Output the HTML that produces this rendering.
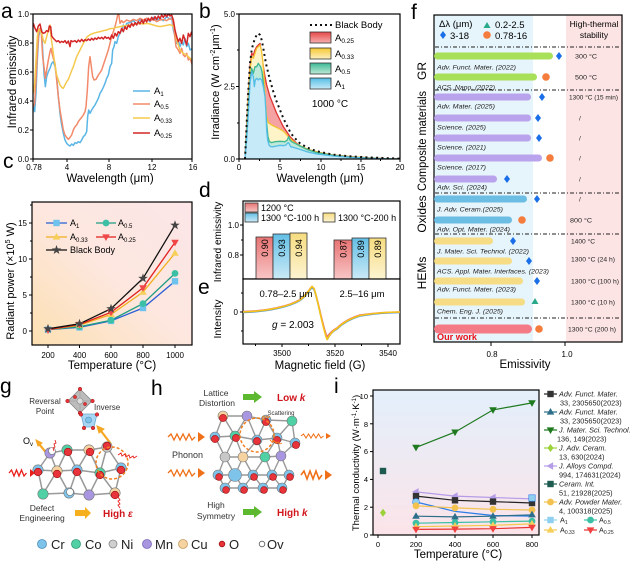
<!DOCTYPE html>
<html><head><meta charset="utf-8"><style>html,body{margin:0;padding:0;background:#fff}svg{display:block}</style></head><body>
<svg width="630" height="561" viewBox="0 0 630 561" font-family="'Liberation Sans', Arial, sans-serif">
<defs>
<linearGradient id="gc" x1="0" y1="1" x2="1" y2="0"><stop offset="0" stop-color="#fde0b2"/><stop offset="0.5" stop-color="#fde7df"/><stop offset="1" stop-color="#fce6e8"/></linearGradient>
<linearGradient id="gi" x1="0" y1="0" x2="0" y2="1"><stop offset="0" stop-color="#e3effb"/><stop offset="1" stop-color="#fbe4e9"/></linearGradient>
<linearGradient id="br" x1="0" y1="0" x2="0" y2="1"><stop offset="0" stop-color="#e87474"/><stop offset="1" stop-color="#f8c6c6"/></linearGradient>
<linearGradient id="bb" x1="0" y1="0" x2="0" y2="1"><stop offset="0" stop-color="#64bfe6"/><stop offset="1" stop-color="#cbeaf6"/></linearGradient>
<linearGradient id="by" x1="0" y1="0" x2="0" y2="1"><stop offset="0" stop-color="#f6dc80"/><stop offset="1" stop-color="#fdf4d2"/></linearGradient>
<linearGradient id="lg1" x1="0" y1="0" x2="0" y2="1"><stop offset="0" stop-color="#e64848"/><stop offset="1" stop-color="#f6b0b0"/></linearGradient>
<linearGradient id="lg2" x1="0" y1="0" x2="0" y2="1"><stop offset="0" stop-color="#f5c832"/><stop offset="1" stop-color="#fdf0c0"/></linearGradient>
<linearGradient id="lg3" x1="0" y1="0" x2="0" y2="1"><stop offset="0" stop-color="#3cb894"/><stop offset="1" stop-color="#c0ead8"/></linearGradient>
<linearGradient id="lg4" x1="0" y1="0" x2="0" y2="1"><stop offset="0" stop-color="#55bde6"/><stop offset="1" stop-color="#c8ebf7"/></linearGradient>
<clipPath id="ca" clipPathUnits="userSpaceOnUse"><rect x="100" y="42" width="477" height="435"/></clipPath>
<clipPath id="cb" clipPathUnits="userSpaceOnUse"><rect x="118" y="42" width="482" height="435"/></clipPath>
<g id="sq"><rect x="-3.2" y="-3.2" width="6.4" height="6.4"/></g>
<g id="ci"><circle r="3.4"/></g>
<g id="tr"><polygon points="0,-4 3.8,2.6 -3.8,2.6"/></g>
<g id="dt"><polygon points="0,4 3.8,-2.6 -3.8,-2.6"/></g>
<g id="lt"><polygon points="-4,0 2.6,-3.8 2.6,3.8"/></g>
<g id="di"><polygon points="0,-4 3,0 0,4 -3,0"/></g>
<g id="st"><polygon points="0,-5 1.2,-1.6 4.8,-1.5 1.9,0.6 2.9,4 0,2 -2.9,4 -1.9,0.6 -4.8,-1.5 -1.2,-1.6"/></g>
</defs>

<!-- ============ PANEL A ============ -->
<text x="1" y="18" font-size="21">a</text>
<g transform="scale(0.333333)" fill="none" stroke-width="4.5" stroke-linejoin="round">
<g clip-path="url(#ca)">
<polyline stroke="#5ab6e6" points="100,320 104,335 108,280 112,180 116,110 120,92 125,90 128,150 132,220 136,260 140,230 145,215 150,205 155,190 160,185 165,200 170,230 175,290 180,340 185,375 190,400 195,420 200,430 205,435 210,438 215,432 220,436 225,428 230,430 235,425 240,428 245,420 250,410 255,405 260,395 263,350 266,330 270,340 275,330 280,322 285,315 290,305 295,295 300,280 305,272 310,262 315,250 320,235 325,225 330,200 335,190 338,150 342,140 345,125 350,130 355,110 360,100 365,90 370,75 375,85 380,70 390,68 400,62 410,72 420,58 430,66 440,55 450,65 460,52 470,60 480,55 490,62 500,50 510,58 515,52 520,90 525,110 530,130 535,120 540,140 545,125 550,135 555,115 560,140 565,130 570,150 577,145"/>
<polyline stroke="#f28a6a" points="100,320 104,310 108,240 112,160 116,100 120,85 124,100 128,170 132,200 136,235 140,210 145,180 150,155 153,145 156,160 160,175 165,190 170,240 175,290 180,330 185,360 190,390 195,405 200,412 205,418 210,412 215,405 220,390 225,380 230,375 235,365 240,358 245,352 250,345 255,335 258,320 262,270 266,200 270,170 274,200 278,230 282,240 288,238 295,225 300,218 305,210 310,195 315,180 320,165 325,150 330,130 335,110 340,95 345,80 350,60 353,45 356,40 360,70 365,62 370,68 380,60 390,64 400,58 410,62 420,55 430,60 440,55 450,62 460,58 470,65 480,60 490,58 500,62 510,55 518,60 522,90 528,140 535,150 540,160 545,145 550,165 555,170 560,160 565,180 570,175 577,195"/>
<polyline stroke="#f5c94e" points="100,280 104,250 108,180 112,110 116,88 120,90 125,100 130,120 135,130 140,110 145,90 150,75 153,110 156,130 160,160 165,195 170,225 175,240 180,255 185,262 190,265 195,255 200,245 205,238 210,225 215,212 220,200 225,185 230,170 235,160 240,150 245,140 250,130 255,122 260,112 265,108 270,104 280,100 290,97 300,95 310,92 320,90 330,86 340,85 350,82 360,80 370,78 380,76 390,75 400,74 410,72 420,70 430,72 440,70 450,72 460,75 470,78 480,80 490,78 500,76 510,74 520,78 525,90 530,120 535,135 540,150 550,160 560,165 570,175 577,178"/>
<polyline stroke="#d42626" points="100,70 105,85 110,95 115,78 120,72 125,95 130,100 135,98 140,92 145,95 148,78 152,80 155,108 160,115 165,120 170,125 175,122 180,128 185,124 190,127 195,122 200,130 205,123 210,140 213,122 218,125 225,122 230,127 235,120 240,125 245,118 250,124 255,119 260,122 265,117 270,121 275,115 280,120 285,114 290,118 295,112 300,116 305,112 310,117 315,110 320,115 325,112 330,118 335,105 340,115 345,100 350,108 355,95 360,100 365,85 370,95 375,80 380,88 385,75 390,82 395,70 400,78 405,68 410,75 415,65 420,72 425,60 430,70 435,58 440,66 445,55 450,62 455,52 460,60 465,50 470,58 475,48 480,56 485,45 490,52 495,44 500,50 505,42 510,48 515,45 520,60 525,90 530,110 535,125 540,115 545,130 550,105 555,120 560,135 565,100 570,110 575,95"/>
</g></g>
<rect x="33" y="14" width="159" height="145" fill="none" stroke="#000" stroke-width="1.2"/>
<g stroke="#000" stroke-width="1">
<line x1="30" y1="14" x2="33" y2="14"/><line x1="30" y1="43" x2="33" y2="43"/><line x1="30" y1="72" x2="33" y2="72"/><line x1="30" y1="101" x2="33" y2="101"/><line x1="30" y1="130" x2="33" y2="130"/><line x1="30" y1="159" x2="33" y2="159"/>
<line x1="33" y1="159" x2="33" y2="162"/><line x1="67" y1="159" x2="67" y2="162"/><line x1="109" y1="159" x2="109" y2="162"/><line x1="152" y1="159" x2="152" y2="162"/><line x1="192" y1="159" x2="192" y2="162"/>
</g>
<g font-size="8" text-anchor="end">
<text x="29" y="17">1.0</text><text x="29" y="46">0.8</text><text x="29" y="75">0.6</text><text x="29" y="104">0.4</text><text x="29" y="133">0.2</text><text x="29" y="162">0.0</text>
</g>
<g font-size="8" text-anchor="middle">
<text x="34" y="170">0.78</text><text x="67" y="170">4</text><text x="109" y="170">8</text><text x="152" y="170">12</text><text x="193" y="170">16</text>
</g>
<text x="110" y="182" font-size="11.5" text-anchor="middle">Wavelength (μm)</text>
<text transform="translate(16,82) rotate(-90)" font-size="11.5" text-anchor="middle">Infrared emissivity</text>
<g stroke-width="1.5">
<line x1="133" y1="91" x2="150" y2="91" stroke="#5ab6e6"/>
<line x1="133" y1="104" x2="150" y2="104" stroke="#f28a6a"/>
<line x1="133" y1="118" x2="150" y2="118" stroke="#f5c94e"/>
<line x1="133" y1="133" x2="150" y2="133" stroke="#d42626"/>
</g>
<g font-size="9.5">
<text x="154" y="94">A<tspan font-size="6" dy="2">1</tspan></text>
<text x="154" y="107">A<tspan font-size="6" dy="2">0.5</tspan></text>
<text x="154" y="121">A<tspan font-size="6" dy="2">0.33</tspan></text>
<text x="154" y="136">A<tspan font-size="6" dy="2">0.25</tspan></text>
</g>

<!-- ============ PANEL B ============ -->
<text x="199" y="18" font-size="21">b</text>
<g transform="translate(200,0) scale(0.333333)" clip-path="url(#cb)" stroke-width="4" stroke-linejoin="round">
<path fill="#f4a2a2" stroke="#e03636" d="M135,477 L140,380 145,280 150,200 155,160 160,165 165,150 170,140 175,135 180,130 185,165 190,200 195,230 200,255 210,290 220,315 230,340 240,360 250,380 260,395 270,410 280,420 290,430 300,437 320,447 340,453 360,458 400,465 450,470 500,473 550,476 600,477 Z"/>
<path fill="#fff3c8" stroke="#f5c330" d="M135,477 L140,390 145,290 150,210 155,170 160,175 165,160 170,145 175,140 180,135 184,150 188,180 192,230 196,300 200,350 205,368 215,375 225,380 235,385 245,390 255,398 265,410 275,420 290,432 310,442 330,450 360,458 400,465 450,470 500,473 550,476 600,477 Z"/>
<path fill="#bfe9d8" stroke="#3cb894" d="M135,477 L140,400 145,320 150,240 155,205 160,220 165,200 170,200 175,190 178,195 182,200 186,215 190,250 195,300 200,370 204,410 208,425 215,428 225,425 240,424 255,425 262,420 266,410 270,420 275,425 285,430 300,438 320,448 350,458 400,466 450,471 500,474 550,476 600,477 Z"/>
<path fill="#c6eaf7" stroke="#55bde6" d="M135,477 L140,420 145,340 150,250 155,215 160,230 163,260 166,240 170,235 175,240 180,235 185,240 190,260 195,290 198,340 200,390 203,420 207,435 212,440 220,440 230,438 240,436 250,437 258,435 262,430 265,428 268,432 272,440 280,442 290,445 300,448 320,455 350,462 400,468 450,472 500,474 550,476 600,477 Z"/>
<path fill="none" stroke="#111" stroke-width="6" stroke-dasharray="6,10" d="M135,477 L140,370 145,270 150,190 155,150 160,130 165,115 170,105 175,100 180,105 185,120 190,145 195,175 200,200 210,240 220,275 230,305 240,330 250,355 260,375 270,395 280,410 290,420 300,430 320,442 340,450 360,456 400,464 450,469 500,472 550,474 600,476"/>
</g>
<rect x="239" y="14" width="161" height="145" fill="none" stroke="#000" stroke-width="1.2"/>
<g stroke="#000" stroke-width="1">
<line x1="236" y1="14" x2="239" y2="14"/><line x1="237" y1="50" x2="239" y2="50"/><line x1="236" y1="86.5" x2="239" y2="86.5"/><line x1="237" y1="123" x2="239" y2="123"/><line x1="236" y1="159" x2="239" y2="159"/>
<line x1="239" y1="159" x2="239" y2="162"/><line x1="259.5" y1="159" x2="259.5" y2="161"/><line x1="280" y1="159" x2="280" y2="162"/><line x1="300.5" y1="159" x2="300.5" y2="161"/><line x1="321" y1="159" x2="321" y2="162"/><line x1="341" y1="159" x2="341" y2="161"/><line x1="361" y1="159" x2="361" y2="162"/><line x1="380.5" y1="159" x2="380.5" y2="161"/><line x1="400" y1="159" x2="400" y2="162"/>
</g>
<g font-size="8" text-anchor="end"><text x="235" y="17">5.0</text><text x="235" y="89.5">2.5</text><text x="235" y="162">0.0</text></g>
<g font-size="8" text-anchor="middle"><text x="239" y="170">0</text><text x="280" y="170">5</text><text x="321" y="170">10</text><text x="361" y="170">15</text><text x="400" y="170">20</text></g>
<text x="320" y="182" font-size="11.5" text-anchor="middle">Wavelength (μm)</text>
<text transform="translate(219,82) rotate(-90)" font-size="11" text-anchor="middle">Irradiance (W cm<tspan font-size="7" dy="-4">-2</tspan><tspan dy="4">μm</tspan><tspan font-size="7" dy="-4">-1</tspan><tspan dy="4">)</tspan></text>
<line x1="310" y1="25" x2="332" y2="25" stroke="#111" stroke-width="2" stroke-dasharray="2,3"/>
<rect x="310" y="32" width="21" height="11" fill="url(#lg1)" stroke="#333" stroke-width="0.8"/>
<rect x="310" y="48" width="21" height="11" fill="url(#lg2)" stroke="#333" stroke-width="0.8"/>
<rect x="310" y="63" width="21" height="11" fill="url(#lg3)" stroke="#333" stroke-width="0.8"/>
<rect x="310" y="78" width="21" height="11" fill="url(#lg4)" stroke="#333" stroke-width="0.8"/>
<g font-size="9.5">
<text x="335" y="28">Black Body</text>
<text x="335" y="41">A<tspan font-size="6.5" dy="2">0.25</tspan></text>
<text x="335" y="57">A<tspan font-size="6.5" dy="2">0.33</tspan></text>
<text x="335" y="72">A<tspan font-size="6.5" dy="2">0.5</tspan></text>
<text x="335" y="87">A<tspan font-size="6.5" dy="2">1</tspan></text>
</g>
<text x="330" y="107" font-size="10" text-anchor="middle">1000 °C</text>

<!-- ============ PANEL C ============ -->
<text x="3" y="168" font-size="21">c</text>
<rect x="32" y="202" width="160" height="143" fill="url(#gc)" stroke="#000" stroke-width="1.2"/>
<g stroke="#000" stroke-width="1">
<line x1="29" y1="331" x2="32" y2="331"/><line x1="29" y1="295" x2="32" y2="295"/><line x1="29" y1="259" x2="32" y2="259"/><line x1="29" y1="223" x2="32" y2="223"/>
<line x1="30" y1="313" x2="32" y2="313"/><line x1="30" y1="277" x2="32" y2="277"/><line x1="30" y1="241" x2="32" y2="241"/><line x1="30" y1="205" x2="32" y2="205"/>
<line x1="48" y1="345" x2="48" y2="348"/><line x1="79.5" y1="345" x2="79.5" y2="348"/><line x1="111" y1="345" x2="111" y2="348"/><line x1="143" y1="345" x2="143" y2="348"/><line x1="175" y1="345" x2="175" y2="348"/>
</g>
<g font-size="8" text-anchor="end"><text x="27" y="334">0</text><text x="27" y="298">5</text><text x="27" y="262">10</text><text x="27" y="226">15</text></g>
<g font-size="8" text-anchor="middle"><text x="48" y="358">200</text><text x="79.5" y="358">400</text><text x="111" y="358">600</text><text x="143" y="358">800</text><text x="175" y="358">1000</text></g>
<text x="112" y="369" font-size="11.5" text-anchor="middle">Temperature (°C)</text>
<text transform="translate(14,281) rotate(-90)" font-size="11" text-anchor="middle">Radiant power (×10<tspan font-size="7" dy="-4">5</tspan><tspan dy="4"> W)</tspan></text>
<g fill="none" stroke-width="1.3">
<polyline stroke="#2a5fd6" points="48,329.6 79.5,327.4 111,320.9 143,308 175,281.3"/>
<polyline stroke="#1f9c84" points="48,329.6 79.5,326.7 111,320.2 143,303.6 175,273.4"/>
<polyline stroke="#f0b020" points="48,329.6 79.5,325.2 111,314.4 143,292.1 175,253.2"/>
<polyline stroke="#e02020" points="48,329.6 79.5,324.5 111,312.3 143,287.8 175,242.4"/>
<polyline stroke="#111" points="48,328.8 79.5,323.8 111,308.7 143,278.4 175,225.2"/>
</g>
<g fill="#6ec3ee"><use href="#sq" x="48" y="329.6"/><use href="#sq" x="79.5" y="327.4"/><use href="#sq" x="111" y="320.9"/><use href="#sq" x="143" y="308"/><use href="#sq" x="175" y="281.3"/></g>
<g fill="#3cc0a5"><use href="#ci" x="79.5" y="326.7"/><use href="#ci" x="111" y="320.2"/><use href="#ci" x="143" y="303.6"/><use href="#ci" x="175" y="273.4"/></g>
<g fill="#f5cf5a"><use href="#tr" x="79.5" y="325.2"/><use href="#tr" x="111" y="314.4"/><use href="#tr" x="143" y="292.1"/><use href="#tr" x="175" y="253.2"/></g>
<g fill="#f04848"><use href="#dt" x="48" y="330"/><use href="#dt" x="79.5" y="324.5"/><use href="#dt" x="111" y="312.3"/><use href="#dt" x="143" y="287.8"/><use href="#dt" x="175" y="242.4"/></g>
<g fill="#444"><use href="#st" x="48" y="328.8"/><use href="#st" x="79.5" y="323.8"/><use href="#st" x="111" y="308.7"/><use href="#st" x="143" y="278.4"/><use href="#st" x="175" y="225.2"/></g>
<g stroke-width="1.3">
<line x1="46" y1="223" x2="67" y2="223" stroke="#2a5fd6"/><line x1="96" y1="223" x2="116" y2="223" stroke="#1f9c84"/>
<line x1="46" y1="237" x2="67" y2="237" stroke="#f0b020"/><line x1="96" y1="237" x2="116" y2="237" stroke="#e02020"/>
<line x1="46" y1="250" x2="67" y2="250" stroke="#111"/>
</g>
<use href="#sq" x="56.5" y="223" fill="#6ec3ee"/><use href="#ci" x="106" y="223" fill="#3cc0a5"/>
<use href="#tr" x="56.5" y="237" fill="#f5cf5a"/><use href="#dt" x="106" y="237" fill="#f04848"/>
<use href="#st" x="56.5" y="250" fill="#444"/>
<g font-size="9">
<text x="70" y="226">A<tspan font-size="6" dy="2">1</tspan></text>
<text x="118" y="226">A<tspan font-size="6" dy="2">0.5</tspan></text>
<text x="70" y="240">A<tspan font-size="6" dy="2">0.33</tspan></text>
<text x="118" y="240">A<tspan font-size="6" dy="2">0.25</tspan></text>
<text x="70" y="253">Black Body</text>
</g>

<!-- ============ PANEL D / E ============ -->
<text x="199" y="197" font-size="21">d</text>
<rect x="243" y="201" width="157" height="78" fill="#fff" stroke="#000" stroke-width="1.2"/>
<g stroke="#333" stroke-width="0.8">
<rect x="256" y="237" width="17" height="42" fill="url(#br)"/>
<rect x="273" y="234" width="17" height="45" fill="url(#bb)"/>
<rect x="290" y="233" width="17" height="46" fill="url(#by)"/>
<rect x="334" y="240" width="18" height="39" fill="url(#br)"/>
<rect x="352" y="238" width="17" height="41" fill="url(#bb)"/>
<rect x="369" y="238" width="17" height="41" fill="url(#by)"/>
</g>
<g font-size="9">
<text transform="translate(268,248) rotate(-90)" text-anchor="middle">0.90</text>
<text transform="translate(285,248) rotate(-90)" text-anchor="middle">0.93</text>
<text transform="translate(302,248) rotate(-90)" text-anchor="middle">0.94</text>
<text transform="translate(346.5,249) rotate(-90)" text-anchor="middle">0.87</text>
<text transform="translate(364,249) rotate(-90)" text-anchor="middle">0.89</text>
<text transform="translate(381,249) rotate(-90)" text-anchor="middle">0.89</text>
</g>
<g stroke="#333" stroke-width="0.8">
<rect x="245" y="203" width="13" height="9" fill="url(#br)"/>
<rect x="245" y="213" width="13" height="9" fill="url(#bb)"/>
<rect x="323" y="213" width="12" height="9" fill="url(#by)"/>
</g>
<g font-size="9">
<text x="261" y="211">1200 °C</text>
<text x="261" y="221">1300 °C-100 h</text>
<text x="338" y="221">1300 °C-200 h</text>
</g>
<g stroke="#000" stroke-width="1"><line x1="240" y1="225" x2="243" y2="225"/><line x1="240" y1="255" x2="243" y2="255"/><line x1="241" y1="240" x2="243" y2="240"/></g>
<g font-size="8" text-anchor="end"><text x="239" y="228">1.0</text><text x="239" y="258">0.8</text></g>
<text transform="translate(221,242) rotate(-90)" font-size="10" text-anchor="middle">Infrared emissivity</text>

<text x="198" y="294" font-size="21">e</text>
<rect x="243" y="279" width="157" height="65" fill="#fff" stroke="#000" stroke-width="1.2"/>
<g fill="none" stroke-width="1.6" stroke-linejoin="round">
<path stroke="#3b8fe0" d="M243,312.5 C270,311.5 290,306.5 300,300.5 C306,296.5 309,290.5 312,287.5 L314,289.5 C318,300 322,325 327.5,339 C330,334 333,331 337,329 C343,323 350,319 360,316 C375,313.5 385,312.5 400,312.5"/>
<path stroke="#e87070" d="M243,311.5 C270,311 290,305.5 300,299.5 C306,295.5 309,289.5 312,286.5 L314,288.5 C318,299 322,324 327,337 C330,333 333,330 337,328 C343,322 350,318 360,315 C375,313 385,312 400,312"/>
<path stroke="#f5c518" d="M243,312 C270,311 290,306 300,300 C306,296 309,290 312,286.5 L314,288.5 C318,300 322,326 327,339.5 C330,334 333,330.5 337,328.5 C343,322.5 350,318.5 360,315.5 C375,313 385,312 400,312"/>
</g>
<g stroke="#000" stroke-width="1">
<line x1="240" y1="312" x2="243" y2="312"/><line x1="241" y1="293" x2="243" y2="293"/><line x1="241" y1="331" x2="243" y2="331"/>
<line x1="255.5" y1="344" x2="255.5" y2="346"/><line x1="282" y1="344" x2="282" y2="347"/><line x1="308.5" y1="344" x2="308.5" y2="346"/><line x1="335" y1="344" x2="335" y2="347"/><line x1="361.5" y1="344" x2="361.5" y2="346"/><line x1="388" y1="344" x2="388" y2="347"/>
</g>
<text x="238" y="315" font-size="8" text-anchor="end">0</text>
<g font-size="8" text-anchor="middle"><text x="282" y="356">3500</text><text x="335" y="356">3520</text><text x="388" y="356">3540</text></g>
<text x="320" y="369" font-size="11.5" text-anchor="middle">Magnetic field (G)</text>
<text transform="translate(221,319) rotate(-90)" font-size="10.5" text-anchor="middle">Intensity</text>
<text x="286" y="297" font-size="9.5" text-anchor="middle">0.78–2.5 μm</text>
<text x="362" y="297" font-size="9.5" text-anchor="middle">2.5–16 μm</text>
<text x="293" y="328" font-size="10" text-anchor="middle"><tspan font-style="italic">g</tspan> = 2.003</text>

<!-- ============ PANEL F ============ -->
<text x="411" y="19" font-size="21">f</text>
<rect x="434" y="15" width="99" height="327" fill="#e6f4fb"/>
<rect x="566" y="15" width="56" height="327" fill="#fde4e4"/>
<rect x="434" y="15" width="188" height="327" fill="none" stroke="#000" stroke-width="1.2"/>
<g stroke="#222" stroke-width="1" stroke-dasharray="4,2,1,2">
<line x1="435" y1="47" x2="621" y2="47"/><line x1="435" y1="90" x2="621" y2="90"/><line x1="435" y1="193" x2="621" y2="193"/><line x1="435" y1="234" x2="621" y2="234"/><line x1="435" y1="318" x2="621" y2="318"/>
</g>
<text x="439" y="27" font-size="9.5">Δλ (μm)</text>
<polygon points="487,22 490.5,28 483.5,28" fill="#2aa88a"/>
<text x="495" y="28" font-size="9.5">0.2-2.5</text>
<polygon points="443,31 446,35 443,39 440,35" fill="#1a6fe8"/>
<text x="450" y="39" font-size="9.5">3-18</text>
<circle cx="487" cy="35" r="3.8" fill="#f47c3c"/>
<text x="495" y="39" font-size="9.5">0.78-16</text>
<text x="594" y="27" font-size="8.5" text-anchor="middle">High-thermal</text>
<text x="594" y="38" font-size="8.5" text-anchor="middle">stability</text>
<!-- bars -->
<g>
<rect x="434" y="52.5" width="119" height="7" rx="3.5" fill="#a8e05a"/>
<rect x="434" y="73.5" width="103" height="7" rx="3.5" fill="#a8e05a"/>
<rect x="434" y="93.5" width="97" height="7" rx="3.5" fill="#b9a3ec"/>
<rect x="434" y="114.5" width="97" height="7" rx="3.5" fill="#b9a3ec"/>
<rect x="434" y="134.5" width="97" height="7" rx="3.5" fill="#b9a3ec"/>
<rect x="434" y="154.5" width="108" height="7" rx="3.5" fill="#b9a3ec"/>
<rect x="434" y="175.5" width="63" height="7" rx="3.5" fill="#b9a3ec"/>
<rect x="434" y="195.5" width="93" height="7" rx="3.5" fill="#6cbde3"/>
<rect x="434" y="216.5" width="78" height="7" rx="3.5" fill="#6cbde3"/>
<rect x="434" y="237.5" width="59" height="7" rx="3.5" fill="#f6dc85"/>
<rect x="434" y="257.5" width="78" height="7" rx="3.5" fill="#f6dc85"/>
<rect x="434" y="277.5" width="89" height="7" rx="3.5" fill="#f6dc85"/>
<rect x="434" y="298.5" width="91" height="7" rx="3.5" fill="#f6dc85"/>
<rect x="434" y="324.5" width="98" height="9" rx="4.5" fill="#f47b86"/>
</g>
<g fill="#1a6fe8">
<use href="#di" x="559" y="56"/><use href="#di" x="542" y="97"/><use href="#di" x="538" y="118"/><use href="#di" x="539" y="138"/><use href="#di" x="507" y="179"/><use href="#di" x="537" y="199"/><use href="#di" x="513" y="241"/><use href="#di" x="529" y="261"/><use href="#di" x="537" y="281"/>
</g>
<g fill="#f47c3c"><circle cx="546" cy="77" r="3.8"/><circle cx="550" cy="158" r="3.8"/><circle cx="522" cy="220" r="3.8"/><circle cx="539" cy="329" r="3.8"/></g>
<polygon points="535,298 538.5,304 531.5,304" fill="#2aa88a"/>
<g font-size="6.8" font-style="italic" fill="#222">
<text x="437" y="69.5" textLength="79" lengthAdjust="spacingAndGlyphs">Adv. Funct. Mater. (2022)</text>
<text x="437" y="89.5" textLength="58" lengthAdjust="spacingAndGlyphs">ACS. Nano. (2022)</text>
<text x="437" y="108.5" textLength="58" lengthAdjust="spacingAndGlyphs">Adv. Mater. (2025)</text>
<text x="437" y="129.5" textLength="49" lengthAdjust="spacingAndGlyphs">Science. (2025)</text>
<text x="437" y="149.5" textLength="49" lengthAdjust="spacingAndGlyphs">Science. (2021)</text>
<text x="437" y="169.5" textLength="49" lengthAdjust="spacingAndGlyphs">Science. (2017)</text>
<text x="437" y="189.5" textLength="50" lengthAdjust="spacingAndGlyphs">Adv. Sci. (2024)</text>
<text x="437" y="211.5" textLength="66" lengthAdjust="spacingAndGlyphs">J. Adv. Ceram.(2025)</text>
<text x="437" y="231.5" textLength="73" lengthAdjust="spacingAndGlyphs">Adv. Opt. Mater. (2024)</text>
<text x="437" y="253.5" textLength="92" lengthAdjust="spacingAndGlyphs">J. Mater. Sci. Technol. (2022)</text>
<text x="437" y="273.5" textLength="112" lengthAdjust="spacingAndGlyphs">ACS. Appl. Mater. Interfaces. (2023)</text>
<text x="437" y="291.5" textLength="79" lengthAdjust="spacingAndGlyphs">Adv. Funct. Mater. (2023)</text>
<text x="437" y="313.5" textLength="66" lengthAdjust="spacingAndGlyphs">Chem. Eng. J. (2025)</text>
</g>
<text x="437" y="340" font-size="9" font-weight="bold" fill="#e8141c" textLength="40" lengthAdjust="spacingAndGlyphs">Our work</text>
<g font-size="6.5" fill="#222">
<text x="575" y="58.5" textLength="22" lengthAdjust="spacingAndGlyphs">300 °C</text>
<text x="575" y="79.5" textLength="22" lengthAdjust="spacingAndGlyphs">500 °C</text>
<text x="569" y="99.5" textLength="49" lengthAdjust="spacingAndGlyphs">1300 °C (15 min)</text>
<text x="579" y="120.5">/</text><text x="579" y="140.5">/</text><text x="579" y="160.5">/</text><text x="579" y="181.5">/</text><text x="579" y="201.5">/</text>
<text x="570" y="222.5" textLength="22" lengthAdjust="spacingAndGlyphs">800 °C</text>
<text x="571" y="243.5" textLength="24" lengthAdjust="spacingAndGlyphs">1400 °C</text>
<text x="571" y="261.5" textLength="44" lengthAdjust="spacingAndGlyphs">1300 °C (24 h)</text>
<text x="571" y="283.5" textLength="48" lengthAdjust="spacingAndGlyphs">1300 °C (100 h)</text>
<text x="571" y="304.5" textLength="44" lengthAdjust="spacingAndGlyphs">1300 °C (10 h)</text>
<text x="568" y="331.5" textLength="48" lengthAdjust="spacingAndGlyphs">1300 °C (200 h)</text>
</g>
<g font-size="12" text-anchor="middle">
<text transform="translate(426,71) rotate(-90)">GR</text>
<text transform="translate(426,141) rotate(-90)" textLength="100" lengthAdjust="spacingAndGlyphs">Composite materials</text>
<text transform="translate(426,214) rotate(-90)">Oxides</text>
<text transform="translate(426,273) rotate(-90)">HEMs</text>
</g>
<g stroke="#000" stroke-width="1"><line x1="491" y1="342" x2="491" y2="346"/><line x1="565" y1="342" x2="565" y2="346"/></g>
<g font-size="8" text-anchor="middle"><text x="492" y="357">0.8</text><text x="567" y="357">1.0</text></g>
<text x="525" y="368" font-size="11.5" text-anchor="middle">Emissivity</text>

<!-- ============ PANEL G ============ -->
<text x="0" y="393" font-size="21">g</text>
<polygon points="80,389 92,401 80,413 68,401" fill="#bcbcbc" stroke="#8a8a8a" stroke-width="0.8"/>
<g stroke="#999" stroke-width="0.6" fill="none"><line x1="80" y1="389" x2="80" y2="413"/><line x1="68" y1="401" x2="92" y2="401"/></g>
<circle cx="80" cy="401" r="3" fill="#ddd" stroke="#888" stroke-width="0.6"/>
<polygon points="81,414 97,414 94,427 84,427" fill="#a9d6f2" stroke="#6aa9d3" stroke-width="0.8"/>
<circle cx="88.5" cy="420" r="3" fill="#7ec4ea" stroke="#4c8fba" stroke-width="0.6"/>
<g fill="#e8333a" stroke="#a01010" stroke-width="0.5">
<circle cx="80" cy="389" r="1.8"/><circle cx="92.5" cy="401" r="1.8"/><circle cx="80" cy="413" r="1.8"/><circle cx="67.5" cy="401" r="1.8"/><circle cx="75" cy="397" r="1.6"/><circle cx="85" cy="404" r="1.6"/>
<circle cx="81" cy="414.5" r="1.8"/><circle cx="97" cy="414.5" r="1.8"/><circle cx="84" cy="428" r="1.8"/><circle cx="93" cy="428" r="1.8"/>
</g>
<g font-size="8" text-anchor="middle" fill="#333"><text x="45" y="404">Reversal</text><text x="45" y="414">Point</text></g>
<text x="94" y="410" font-size="8" fill="#333">Inverse</text>
<g stroke="#f5a623" stroke-width="2.2" fill="#f5a623">
<line x1="111" y1="444" x2="101" y2="431"/><polygon points="97,426 104,429 99,433" stroke-width="1"/>
<line x1="49" y1="456" x2="39" y2="444"/><polygon points="36,440 42,443 38,446" stroke-width="1"/>
</g>
<text x="23" y="444" font-size="9">O<tspan font-size="6" dy="2">v</tspan></text>
<g stroke="#999" stroke-width="1.5">
<line x1="50" y1="453" x2="67" y2="450"/><line x1="67" y1="450" x2="89" y2="450"/><line x1="89" y1="450" x2="107" y2="447"/>
<line x1="50" y1="453" x2="38" y2="470"/><line x1="50" y1="453" x2="57" y2="471"/><line x1="67" y1="450" x2="57" y2="471"/><line x1="67" y1="450" x2="77" y2="470"/><line x1="89" y1="450" x2="77" y2="470"/><line x1="89" y1="450" x2="100" y2="473"/><line x1="107" y1="447" x2="100" y2="473"/><line x1="107" y1="447" x2="121" y2="468"/>
<line x1="38" y1="470" x2="57" y2="471"/><line x1="57" y1="471" x2="77" y2="470"/><line x1="77" y1="470" x2="100" y2="473"/><line x1="100" y1="473" x2="121" y2="468"/>
<line x1="38" y1="470" x2="43" y2="494"/><line x1="57" y1="471" x2="43" y2="494"/><line x1="57" y1="471" x2="69" y2="493"/><line x1="77" y1="470" x2="69" y2="493"/><line x1="77" y1="470" x2="89" y2="495"/><line x1="100" y1="473" x2="89" y2="495"/><line x1="100" y1="473" x2="115" y2="493"/><line x1="121" y1="468" x2="115" y2="493"/>
<line x1="43" y1="494" x2="69" y2="493"/><line x1="69" y1="493" x2="89" y2="495"/><line x1="89" y1="495" x2="115" y2="493"/>
</g>
<g stroke="#777" stroke-width="0.6">
<circle cx="50" cy="453" r="5.2" fill="#a996e0"/><circle cx="67" cy="450" r="5.2" fill="#4fd1a5"/><circle cx="89" cy="450" r="5.2" fill="#f4d3a0"/><circle cx="107" cy="447" r="5.2" fill="#c8c8c8"/>
<circle cx="38" cy="470" r="5.2" fill="#7ec4ea"/><circle cx="57" cy="471" r="5.2" fill="#f4d3a0"/><circle cx="77" cy="470" r="5.2" fill="#7ec4ea"/><circle cx="100" cy="473" r="5.2" fill="#4fd1a5"/><circle cx="121" cy="468" r="5.2" fill="#7ec4ea"/>
<circle cx="43" cy="494" r="5.2" fill="#4fd1a5"/><circle cx="69" cy="493" r="5.2" fill="#7ec4ea"/><circle cx="89" cy="495" r="5.2" fill="#a996e0"/><circle cx="115" cy="493" r="5.2" fill="#f4d3a0"/>
</g>
<g fill="#e8333a" stroke="#9a1010" stroke-width="0.6">
<circle cx="68" cy="452" r="3.8"/><circle cx="90" cy="452" r="3.8"/><circle cx="107" cy="446" r="3.8"/><circle cx="38" cy="472" r="3.8"/><circle cx="57" cy="474" r="3.8"/><circle cx="77" cy="472" r="3.8"/><circle cx="100" cy="475" r="3.8"/><circle cx="121" cy="470" r="3.8"/><circle cx="115" cy="495" r="3.8"/>
</g>
<g fill="#fff" stroke="#666" stroke-width="0.6"><circle cx="52" cy="451" r="3.5"/><circle cx="70" cy="492" r="3.5"/></g>
<circle cx="112" cy="463" r="16" fill="none" stroke="#f08020" stroke-width="1.5" stroke-dasharray="3,2"/>
<path d="M9,473 l2.5,-3 2.5,6 2.5,-6 2.5,6 2.5,-6 2.5,6 2.5,-3" fill="none" stroke="#e8201c" stroke-width="1.3"/>
<polygon points="30,469 35,473 30,477" fill="#e8201c"/>
<path d="M118,455 l3,-2 1,3 3,-2 1,3 3,-2 1,3 3,-2 1,2 3,-2" fill="none" stroke="#e8201c" stroke-width="0.9"/>
<path d="M55,440 l1,3 -2,1 1,3 -2,1 1,3" fill="none" stroke="#e8201c" stroke-width="0.9"/>
<path d="M118,497 l2,3 -2,1 2,3 -2,1 2,3" fill="none" stroke="#e8201c" stroke-width="0.9"/>
<g font-size="8.5" text-anchor="middle" fill="#333"><text x="42" y="511">Defect</text><text x="42" y="521">Engineering</text></g>
<polygon points="75,510 85,510 85,507 91,513 85,519 85,516 75,516" fill="#f6b01e"/>
<text x="103" y="517" font-size="10" font-weight="bold" fill="#d0151c">High <tspan font-style="italic">ε</tspan></text>

<!-- legend g/h -->
<g stroke-width="0.8">
<circle cx="42" cy="544" r="4.5" fill="#7ec4ea" stroke="#4c8fba"/>
<circle cx="76" cy="544" r="4.5" fill="#4fd1a5" stroke="#2e9a78"/>
<circle cx="113" cy="544" r="4" fill="#d0d0d0" stroke="#888"/>
<circle cx="147" cy="544" r="4.5" fill="#a996e0" stroke="#7a68b8"/>
<circle cx="183" cy="544" r="4.5" fill="#f4d3a0" stroke="#c49a60"/>
<circle cx="222" cy="544" r="2.8" fill="#e8333a" stroke="#9a1010"/>
<circle cx="262" cy="544" r="2.8" fill="#fff" stroke="#555"/>
</g>
<g font-size="13" fill="#222">
<text x="51" y="549">Cr</text><text x="85" y="549">Co</text><text x="121" y="549">Ni</text><text x="155" y="549">Mn</text><text x="191" y="549">Cu</text><text x="229" y="549">O</text><text x="267" y="549">Ov</text>
</g>

<!-- ============ PANEL H ============ -->
<text x="151" y="395" font-size="21">h</text>
<g font-size="8.5" text-anchor="middle" fill="#333"><text x="216" y="396">Lattice</text><text x="217" y="406">Distortion</text><text x="216" y="508">High</text><text x="216" y="519">Symmetry</text></g>
<text x="172" y="458" font-size="9" fill="#333">Phonon</text>
<polygon points="243,394 254,394 254,391 262,397 254,403 254,400 243,400" fill="#5cb82e"/>
<polygon points="243,509 254,509 254,506 262,512 254,518 254,515 243,515" fill="#5cb82e"/>
<text x="277" y="401" font-size="10" font-weight="bold" fill="#d0151c">Low <tspan font-style="italic">k</tspan></text>
<text x="277" y="516" font-size="10" font-weight="bold" fill="#d0151c">High <tspan font-style="italic">k</tspan></text>
<g fill="none" stroke="#f07018" stroke-width="1.3">
<path d="M168,437 l3,-3 3,6 3,-6 3,6 3,-6 3,6 3,-6 3,6 3,-3"/>
<path d="M168,473 l3,-3 3,6 3,-6 3,6 3,-6 3,6 3,-6 3,6 3,-3"/>
<path d="M301,436 l2.5,-2 2.5,4 2.5,-4 2.5,4 2.5,-4 2.5,4 2.5,-4 2.5,4 2.5,-2" stroke-width="1"/>
<path d="M301,475 l3,-4 3,8 3,-8 3,8 3,-8 3,8 3,-4" stroke-width="1.6"/>
</g>
<g fill="#f07018">
<polygon points="198,432 205,437 198,442"/><polygon points="198,468 205,473 198,478"/>
<polygon points="326,433 331,436 326,439"/><polygon points="325,470 332,475 325,480"/>
</g>
<text x="281" y="415" font-size="6" fill="#333" text-anchor="middle">Scattering</text>
<g stroke="#999" stroke-width="1.4">
<line x1="223" y1="416" x2="247" y2="416"/><line x1="247" y1="416" x2="266" y2="420"/><line x1="266" y1="420" x2="292" y2="421"/>
<line x1="223" y1="416" x2="215" y2="437"/><line x1="223" y1="416" x2="235" y2="436"/><line x1="247" y1="416" x2="235" y2="436"/><line x1="247" y1="416" x2="257" y2="440"/><line x1="266" y1="420" x2="257" y2="440"/><line x1="266" y1="420" x2="277" y2="438"/><line x1="292" y1="421" x2="277" y2="438"/><line x1="292" y1="421" x2="295" y2="443"/>
<line x1="215" y1="437" x2="235" y2="436"/><line x1="235" y1="436" x2="257" y2="440"/><line x1="257" y1="440" x2="277" y2="438"/><line x1="277" y1="438" x2="295" y2="443"/>
<line x1="215" y1="437" x2="225" y2="457"/><line x1="235" y1="436" x2="225" y2="457"/><line x1="235" y1="436" x2="243" y2="457"/><line x1="257" y1="440" x2="243" y2="457"/><line x1="257" y1="440" x2="265" y2="457"/><line x1="277" y1="438" x2="265" y2="457"/><line x1="277" y1="438" x2="281" y2="456"/><line x1="295" y1="443" x2="281" y2="456"/>
<line x1="225" y1="457" x2="243" y2="457"/><line x1="243" y1="457" x2="265" y2="457"/><line x1="265" y1="457" x2="281" y2="456"/>
<line x1="225" y1="457" x2="218" y2="475"/><line x1="225" y1="457" x2="235" y2="475"/><line x1="243" y1="457" x2="235" y2="475"/><line x1="243" y1="457" x2="253" y2="475"/><line x1="265" y1="457" x2="253" y2="475"/><line x1="265" y1="457" x2="272" y2="475"/><line x1="281" y1="456" x2="272" y2="475"/><line x1="281" y1="456" x2="289" y2="475"/>
<line x1="218" y1="475" x2="289" y2="475"/>
<line x1="218" y1="475" x2="225" y2="488"/><line x1="235" y1="475" x2="225" y2="488"/><line x1="235" y1="475" x2="243" y2="488"/><line x1="253" y1="475" x2="243" y2="488"/><line x1="253" y1="475" x2="263" y2="488"/><line x1="272" y1="475" x2="263" y2="488"/><line x1="272" y1="475" x2="282" y2="488"/><line x1="289" y1="475" x2="282" y2="488"/>
<line x1="225" y1="488" x2="282" y2="488"/>
</g>
<g stroke="#777" stroke-width="0.6">
<circle cx="223" cy="416" r="5" fill="#f4d3a0"/><circle cx="247" cy="416" r="5" fill="#a996e0"/><circle cx="266" cy="420" r="5" fill="#7ec4ea"/><circle cx="292" cy="421" r="5" fill="#4fd1a5"/>
<circle cx="215" cy="437" r="5" fill="#7ec4ea"/><circle cx="235" cy="436" r="5" fill="#4fd1a5"/><circle cx="257" cy="440" r="5" fill="#7ec4ea"/><circle cx="277" cy="438" r="5" fill="#7ec4ea"/><circle cx="295" cy="443" r="5" fill="#7ec4ea"/>
<circle cx="225" cy="457" r="5" fill="#c8c8c8"/><circle cx="243" cy="457" r="5" fill="#f4d3a0"/><circle cx="265" cy="457" r="5" fill="#4fd1a5"/><circle cx="281" cy="456" r="5" fill="#a996e0"/>
<circle cx="218" cy="475" r="5" fill="#7ec4ea"/><circle cx="235" cy="475" r="6.5" fill="#7ec4ea"/><circle cx="253" cy="475" r="5" fill="#7ec4ea"/><circle cx="272" cy="475" r="5" fill="#7ec4ea"/><circle cx="289" cy="475" r="5" fill="#7ec4ea"/>
<circle cx="225" cy="488" r="5" fill="#7ec4ea"/><circle cx="243" cy="488" r="5" fill="#7ec4ea"/><circle cx="263" cy="488" r="5" fill="#7ec4ea"/><circle cx="282" cy="488" r="5" fill="#7ec4ea"/>
</g>
<g fill="#e8333a" stroke="#9a1010" stroke-width="0.6">
<circle cx="223" cy="418" r="3.6"/><circle cx="266" cy="422" r="3.6"/><circle cx="215" cy="439" r="3.6"/><circle cx="236" cy="438" r="3.6"/><circle cx="257" cy="441" r="3.6"/><circle cx="277" cy="440" r="3.6"/><circle cx="296" cy="445" r="3.6"/>
<circle cx="219" cy="477" r="3.4"/><circle cx="254" cy="477" r="3.4"/><circle cx="273" cy="477" r="3.4"/><circle cx="290" cy="477" r="3.4"/><circle cx="226" cy="490" r="3.4"/><circle cx="244" cy="490" r="3.4"/><circle cx="264" cy="490" r="3.4"/><circle cx="283" cy="490" r="3.4"/>
</g>
<circle cx="257" cy="435" r="17" fill="none" stroke="#f08020" stroke-width="1.5" stroke-dasharray="3,2"/>
<path d="M262,418 l2,-2 1,2 2,-2 1,2 2,-2" fill="none" stroke="#f08020" stroke-width="0.9"/>
<path d="M270,440 l2,2 2,-1 2,2 2,-1 2,2 2,-1" fill="none" stroke="#f08020" stroke-width="0.9"/>

<!-- ============ PANEL I ============ -->
<text x="334" y="393" font-size="21">i</text>
<rect x="373" y="390" width="166" height="145" fill="url(#gi)" stroke="#000" stroke-width="1.2"/>
<g stroke="#000" stroke-width="1">
<line x1="370" y1="535" x2="373" y2="535"/><line x1="370" y1="507.2" x2="373" y2="507.2"/><line x1="370" y1="479.4" x2="373" y2="479.4"/><line x1="370" y1="451.6" x2="373" y2="451.6"/><line x1="370" y1="423.8" x2="373" y2="423.8"/><line x1="370" y1="396" x2="373" y2="396"/>
<line x1="378" y1="535" x2="378" y2="538"/><line x1="416" y1="535" x2="416" y2="538"/><line x1="455" y1="535" x2="455" y2="538"/><line x1="493" y1="535" x2="493" y2="538"/><line x1="532" y1="535" x2="532" y2="538"/>
</g>
<g font-size="7.5" text-anchor="end"><text x="368" y="538">0</text><text x="368" y="510">2</text><text x="368" y="482">4</text><text x="368" y="454">6</text><text x="368" y="427">8</text><text x="368" y="399">10</text></g>
<g font-size="7.5" text-anchor="middle"><text x="378" y="547">0</text><text x="416" y="547">200</text><text x="455" y="547">400</text><text x="493" y="547">600</text><text x="532" y="547">800</text></g>
<text x="458" y="558" font-size="11.5" text-anchor="middle">Temperature (°C)</text>
<text transform="translate(359,463) rotate(-90)" font-size="9.5" text-anchor="middle">Thermal conductivity (W·m<tspan font-size="6" dy="-3">-1</tspan><tspan dy="3">·K</tspan><tspan font-size="6" dy="-3">-1</tspan><tspan dy="3">)</tspan></text>
<g fill="none" stroke-width="1.2">
<polyline stroke="#1f7a1f" points="416,447.4 455,432.1 493,409.9 532,402.9"/>
<polyline stroke="#b49ce8" points="416,491.9 455,496.1 493,497.5 532,498.9"/>
<polyline stroke="#222" points="416,496.1 455,500.3 493,501.6 532,503"/>
<polyline stroke="#2b7de9" points="416,502 455,511.4 493,515.5 532,516.2"/>
<polyline stroke="#f2c14e" points="416,505.8 455,507.9 493,509.3 532,510"/>
<polyline stroke="#2d6f8a" points="416,516.2 455,516.9 493,516.2 532,514.8"/>
<polyline stroke="#3cc0a5" points="416,523.2 455,522.5 493,521.8 532,521.1"/>
<polyline stroke="#f5c94e" points="416,526.7 455,526 493,525.3 532,523.9"/>
<polyline stroke="#e83030" points="416,529.4 455,529.1 493,528.7 532,527.4"/>
</g>
<g fill="#1f7a1f"><use href="#dt" x="416" y="447.4"/><use href="#dt" x="455" y="432.1"/><use href="#dt" x="493" y="409.9"/><use href="#dt" x="532" y="402.9"/></g>
<g fill="#b49ce8"><use href="#lt" x="416" y="491.9"/><use href="#lt" x="455" y="496.1"/><use href="#lt" x="493" y="497.5"/><use href="#lt" x="532" y="498.9"/></g>
<g fill="#333"><use href="#sq" x="416" y="496.1"/><use href="#sq" x="455" y="500.3"/><use href="#sq" x="493" y="501.6"/><use href="#sq" x="532" y="503"/></g>
<g fill="#8fd0f0" stroke="#2b7de9" stroke-width="0.6"><use href="#ci" x="416" y="502"/><use href="#sq" x="532" y="498"/></g>
<g fill="#f2c14e"><use href="#ci" x="416" y="505.8"/><use href="#ci" x="455" y="507.9"/><use href="#ci" x="493" y="509.3"/><use href="#ci" x="532" y="510"/></g>
<g fill="#2d6f8a"><use href="#tr" x="416" y="516.2"/><use href="#tr" x="455" y="516.9"/><use href="#tr" x="493" y="516.2"/><use href="#tr" x="532" y="514.8"/></g>
<g fill="#3cc0a5"><use href="#ci" x="416" y="523.2"/><use href="#ci" x="455" y="522.5"/><use href="#ci" x="493" y="521.8"/><use href="#ci" x="532" y="521.1"/></g>
<g fill="#f5cf5a"><use href="#tr" x="416" y="526.7"/><use href="#tr" x="455" y="526"/><use href="#tr" x="493" y="525.3"/><use href="#tr" x="532" y="523.9"/></g>
<g fill="#f04040"><use href="#dt" x="416" y="529.4"/><use href="#dt" x="455" y="529.1"/><use href="#dt" x="493" y="528.7"/><use href="#dt" x="532" y="527.4"/></g>
<use href="#sq" x="383" y="471" fill="#1d5a50"/>
<use href="#di" x="383" y="512.8" fill="#9bd13a"/>
<!-- legend i -->
<g stroke-width="1.2">
<line x1="544" y1="394" x2="557" y2="394" stroke="#222"/><line x1="544" y1="412" x2="557" y2="412" stroke="#2d6f8a"/><line x1="544" y1="430" x2="557" y2="430" stroke="#1f7a1f"/><line x1="544" y1="448" x2="557" y2="448" stroke="#9bd13a"/><line x1="544" y1="466" x2="557" y2="466" stroke="#b49ce8"/><line x1="544" y1="484" x2="557" y2="484" stroke="#1d5a50"/><line x1="544" y1="502" x2="557" y2="502" stroke="#f2c14e"/>
<line x1="544" y1="520" x2="557" y2="520" stroke="#8fd0f0"/><line x1="584" y1="520" x2="597" y2="520" stroke="#3cc0a5"/><line x1="544" y1="530" x2="557" y2="530" stroke="#f5c94e"/><line x1="584" y1="530" x2="597" y2="530" stroke="#e83030"/>
</g>
<use href="#sq" x="550.5" y="394" fill="#333"/><use href="#tr" x="550.5" y="412" fill="#2d6f8a"/><use href="#dt" x="550.5" y="430" fill="#1f7a1f"/><use href="#di" x="550.5" y="448" fill="#9bd13a"/><use href="#lt" x="550.5" y="466" fill="#b49ce8"/><use href="#sq" x="550.5" y="484" fill="#1d5a50"/><use href="#ci" x="550.5" y="502" fill="#f2c14e"/>
<use href="#sq" x="550.5" y="520" fill="#8fd0f0"/><use href="#ci" x="590.5" y="520" fill="#3cc0a5"/><use href="#tr" x="550.5" y="530" fill="#f5cf5a"/><use href="#dt" x="590.5" y="530" fill="#f04040"/>
<g font-size="7.3" fill="#222">
<text x="559" y="396.5" font-style="italic">Adv. Funct. Mater.</text><text x="560" y="405.5">33, 2305650(2023)</text>
<text x="559" y="414.5" font-style="italic">Adv. Funct. Mater.</text><text x="560" y="423.5">33, 2305650(2023)</text>
<text x="559" y="432.5" font-style="italic">J. Mater. Sci. Technol.</text><text x="557" y="441.5">136, 149(2023)</text>
<text x="559" y="450.5" font-style="italic">J. Adv. Ceram.</text><text x="559" y="459.5">13, 630(2024)</text>
<text x="559" y="468.5" font-style="italic">J. Alloys Compd.</text><text x="559" y="477.5">994, 174631(2024)</text>
<text x="559" y="486.5" font-style="italic">Ceram. Int.</text><text x="559" y="495.5">51, 21928(2025)</text>
<text x="559" y="504.5" font-style="italic">Adv. Powder Mater.</text><text x="559" y="513.5">4, 100318(2025)</text>
<text x="560" y="522.5">A<tspan font-size="5" dy="1.5">1</tspan></text><text x="599" y="522.5">A<tspan font-size="5" dy="1.5">0.5</tspan></text>
<text x="560" y="532.5">A<tspan font-size="5" dy="1.5">0.33</tspan></text><text x="599" y="532.5">A<tspan font-size="5" dy="1.5">0.25</tspan></text>
</g>
</svg>
</body></html>
